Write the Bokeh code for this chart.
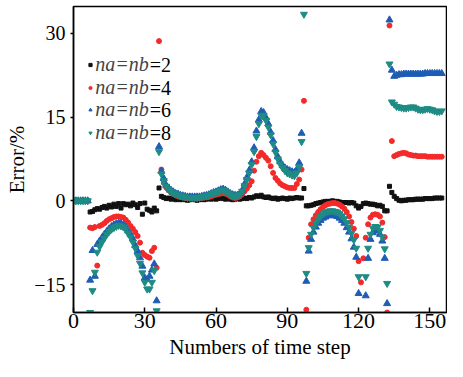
from bokeh.plotting import figure
from bokeh.models import Range1d, FixedTicker, Legend, LegendItem, Label, ColumnDataSource
from bokeh.embed import file_html
from bokeh.resources import INLINE

steps = list(range(156))

err_nb2 = [0, 0, 0, 0, 0, 0, 0,
           -2.0, -1.9, -1.6, -1.4, -1.5, -1.2, -1.0, -1.3, -0.8, -1.1, -0.6, -1.0, -0.5, -1.3, -0.5,
           -0.7, -0.6, -0.9, -0.4, -0.7, -1.2, -0.5, -2.4, -0.4, -1.5, -1.7, -2.0, -1.3, -1.8,
           2.3, 0.8, 0.6, 0.4, 0.5, 0.3, 0.4, 0.2, 0.3, 0.2, 0.3, 0.2, 0.1, 0.2, 0.3, 0.2, 0.1, 0.2,
           0.3, 0.2, 0.3, 0.4, 0.3, 0.4, 0.3, 0.4, 0.5, 0.4, 0.3, 0.4, 0.3, 0.2, 0.3, 0.4, 0.3, 0.4,
           0.5, 0.4, 0.6, 0.5, 0.7, 0.9, 0.8, 1.0, 0.7, 0.6, 0.7, 0.5, 0.4, 0.5, 0.3, 0.4, 0.5, 0.4,
           0.3, 0.5, 0.4, 0.5, 0.6, 0.5, 0.5, 2.2,
           -0.9, -0.9, -0.8, -0.7, -0.5, -0.4, -0.3, -0.2, -0.1, -0.1, -0.1, 0.0, -0.1, -0.1, -0.2,
           -0.3, -0.3, -0.3, -0.4, -0.3, -0.4, -0.9, -1.3, -1.0, -0.5, -0.4, -0.5, -0.6, -0.6, -0.7,
           -0.9, -0.8, -1.0, -1.8, -1.8,
           2.6, 1.5, 0.8, 0.4, 0.1, 0.0, 0.1, 0.1, 0.2, 0.2, 0.2, 0.3, 0.3, 0.3, 0.3, 0.4, 0.4, 0.4,
           0.4, 0.5, 0.5, 0.5, 0.5]

err_nb4 = [0, 0, 0, 0, 0, 0, 0,
           -4.8, -4.9, -4.7, -11.6, -4.5, -4.3, -4.0, -3.6, -3.3, -3.1, -2.9, -2.8, -2.8, -2.9, -3.0,
           -3.4, -3.9, -4.5, -5.0, -5.6, -6.3, -7.5, -9.3, -9.7, -10.0, -10.2, -9.0, -8.4, -12.0,
           28.6, 5.6, 3.2, 2.4, 1.9, 1.5, 1.2, 1.0, 0.8, 0.7, 0.6, 0.5, 0.5, 0.5, 0.4, 0.4, 0.4, 0.5,
           0.5, 0.6, 0.6, 0.7, 0.8, 1.0, 1.1, 1.2, 1.3, 1.4, 1.3, 1.1, 0.8, 0.6, 0.5, 0.6, 0.8, 1.2,
           1.7, 2.2, 2.8, 3.5, 5.4, 7.0, 8.0, 8.6, 8.2, 7.7, 7.2, 6.2, 5.0, 4.1, 3.6, 3.1, 2.8, 2.6,
           2.4, 2.3, 2.3, 2.3, 3.0, 3.8, 5.6, 17.9,
           -19.5, -6.6, -4.2, -3.3, -2.6, -2.0, -1.5, -1.1, -0.8, -0.6, -0.5, -0.4, -0.4, -0.5, -0.7,
           -1.0, -1.4, -2.0, -2.8, -3.8, -5.0, -6.3, -10.8, -14.6, -10.3, -6.6, -4.2, -3.0, -2.5,
           -2.4, -2.5, -2.8, -3.9, -6.5, -20.0,
           31.4, 10.7, 8.0, 8.2, 8.4, 8.5, 8.6, 8.5, 8.3, 8.2, 8.1, 8.1, 8.0, 8.0, 8.0, 8.0, 7.9, 7.9,
           7.9, 7.9, 7.9, 7.9, 7.9]

err_nb6 = [0, 0, 0, 0, 0, 0, 0,
           -14.2, -8.9, -13.5, -7.8, -7.2, -6.6, -6.0, -5.5, -5.0, -4.6, -4.3, -4.1, -4.0, -4.1, -4.3,
           -4.7, -5.4, -6.0, -6.8, -8.0, -9.0, -10.2, -11.7, -13.8, -14.1, -13.5, -12.4, -11.3, -17.9,
           9.7, 5.3, 4.0, 2.8, 2.3, 1.9, 1.6, 1.3, 1.2, 1.0, 0.9, 0.8, 0.7, 0.7, 0.7, 0.7, 0.7, 0.7,
           0.8, 0.9, 1.0, 1.1, 1.3, 1.5, 1.6, 1.8, 2.0, 2.1, 1.9, 1.6, 1.3, 1.1, 1.0, 1.0, 1.3, 1.9,
           3.0, 4.2, 5.5, 7.0, 9.5, 12.5, 14.5, 16.0, 15.8, 14.9, 13.8, 12.3, 10.8, 9.2, 7.9, 7.0,
           6.3, 5.9, 5.6, 5.4, 5.2, 5.1, 5.6, 6.8, 12.1, 36.0,
           -14.4, -9.0, -6.9, -5.6, -4.7, -4.0, -3.5, -3.1, -2.9, -2.7, -2.6, -2.6, -2.7, -2.8, -3.1,
           -3.5, -4.0, -4.8, -5.6, -6.8, -8.3, -10.1, -16.6, -22.0, -22.0, -17.0, -10.3, -6.9, -5.7,
           -5.3, -5.4, -6.0, -7.2, -10.3, -18.4,
           32.4, 23.4, 22.3, 22.5, 22.6, 22.6, 22.7, 22.7, 22.7, 22.7, 22.7, 22.7, 22.7, 22.7, 22.7,
           22.8, 22.8, 22.8, 22.8, 22.8, 22.8, 22.8, 22.8]

err_nb8 = [0, 0, 0, 0, 0, 0, 0,
           -20.0, -16.1, -12.8, -9.2, -8.2, -7.4, -6.7, -6.0, -5.5, -5.1, -4.8, -4.6, -4.4, -4.5, -4.7,
           -5.1, -5.8, -6.5, -7.4, -8.5, -9.8, -11.2, -12.9, -14.6, -15.8, -15.8, -14.6, -12.5, -19.7,
           8.8, 4.8, 3.6, 2.6, 2.1, 1.7, 1.4, 1.2, 1.0, 0.9, 0.8, 0.7, 0.6, 0.6, 0.6, 0.6, 0.6, 0.6,
           0.7, 0.8, 0.9, 1.0, 1.2, 1.4, 1.5, 1.7, 1.9, 1.9, 1.7, 1.4, 1.1, 0.9, 0.8, 0.9, 1.1, 1.7,
           2.7, 3.8, 5.0, 6.5, 8.8, 11.5, 13.8, 15.3, 15.3, 14.4, 13.2, 11.8, 10.2, 8.7, 7.5, 6.6,
           5.9, 5.4, 5.0, 4.8, 4.6, 4.5, 5.0, 6.0, 10.6, 33.4,
           -13.0, -8.4, -6.0, -4.8, -4.0, -3.3, -2.8, -2.4, -2.1, -1.9, -1.8, -1.8, -1.9, -2.0, -2.3,
           -2.7, -3.2, -3.9, -4.7, -5.8, -7.0, -8.5, -13.6, -21.0, -21.0, -13.6, -8.5, -6.0, -4.9,
           -4.6, -4.7, -5.3, -6.5, -8.6, -14.8,
           24.5, 17.7, 17.3, 16.9, 16.8, 16.7, 16.6, 16.6, 16.7, 16.8, 16.8, 16.6, 16.4, 16.3, 16.3,
           16.4, 16.5, 16.4, 16.3, 16.1, 16.0, 16.0, 16.1]

legend_italic = ["na=nb", "na=nb", "na=nb", "na=nb"]
legend_suffix = ["=2", "=4", "=6", "=8"]
x_ticks = [0, 30, 60, 90, 120, 150]
y_ticks = [-15, 0, 15, 30]

FONT = "Liberation Serif"

src = ColumnDataSource(dict(x=steps, a=err_nb2, b=err_nb4, c=err_nb6, d=err_nb8))

p = figure(width=447, height=361, output_backend="svg", toolbar_location=None,
           x_range=Range1d(0, 157), y_range=Range1d(-20, 34.8),
           min_border_left=73, min_border_right=1, min_border_top=6, min_border_bottom=20)
p.background_fill_color = "white"
p.border_fill_color = "white"
p.grid.visible = False
p.outline_line_color = "black"
p.outline_line_width = 1.5

r1 = p.scatter("x", "a", source=src, marker="square", size=4, color="#111111")
r2 = p.scatter("x", "b", source=src, marker="circle", size=5, color="#f42a2a")
r3 = p.scatter("x", "c", source=src, marker="triangle", size=7, color="#1f5cb4")
r4 = p.scatter("x", "d", source=src, marker="inverted_triangle", size=7, color="#1e8c84")

for ax in (p.xaxis[0], p.yaxis[0]):
    ax.axis_line_width = 1.5
    ax.axis_line_color = "black"
    ax.major_tick_line_width = 1.5
    ax.major_tick_line_color = "black"
    ax.minor_tick_line_color = None
    ax.major_label_text_font = FONT
    ax.major_label_text_color = "black"
    ax.axis_label_text_font = FONT
    ax.axis_label_text_font_style = "normal"
    ax.axis_label_text_font_size = "21px"
    ax.axis_label_text_color = "black"

p.xaxis.ticker = FixedTicker(ticks=x_ticks)
p.xaxis.major_tick_in = 5
p.xaxis.major_tick_out = 0
p.xaxis.major_label_standoff = 1
p.xaxis.axis_label_standoff = 4
p.xaxis.major_label_text_font_size = "22px"
p.xaxis.axis_label = "Numbers of time step"

p.yaxis.ticker = FixedTicker(ticks=y_ticks)
p.yaxis.major_tick_in = 0
p.yaxis.major_tick_out = 3
p.yaxis.major_label_standoff = 5
p.yaxis.axis_label_standoff = 2
p.yaxis.major_label_text_font_size = "20px"
p.yaxis.axis_label = "Error/%"
p.yaxis.major_label_overrides = {t: str(t).replace("-", "\u2212") for t in y_ticks}

FH = 301          # expected frame height in px
LEG_SIZE = 20     # legend font size, px
ITEM_H = 23.2     # measured height of one legend row at that size
row_centers = [53.5, 76, 98.5, 121]   # px below the frame top
for lab, suf, r, c in zip(legend_italic, legend_suffix, [r1, r2, r3, r4], row_centers):
    lg = Legend(items=[LegendItem(label=lab, renderers=[r])],
                location=(13.3, FH - c - ITEM_H / 2),
                padding=0, margin=0, spacing=0, label_height=19, glyph_height=19,
                glyph_width=8, label_standoff=1,
                label_text_font=FONT, label_text_font_style="italic",
                label_text_font_size=f"{LEG_SIZE}px",
                border_line_color=None, background_fill_alpha=0)
    p.add_layout(lg, "center")
    p.add_layout(Label(x=76.3, y=FH - c, x_units="screen", y_units="screen",
                       text=suf, text_baseline="middle", text_align="left",
                       text_font=FONT, text_font_size=f"{LEG_SIZE}px", text_color="black"))

open("out.html", "w").write(file_html(p, INLINE))
